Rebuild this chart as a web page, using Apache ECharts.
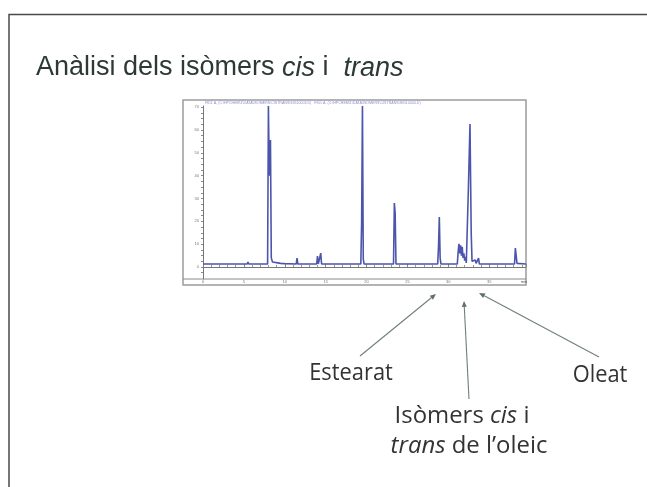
<!DOCTYPE html>
<html>
<head>
<meta charset="UTF-8">
<title>Anàlisi dels isòmers cis i trans</title>
<script src="https://cdn.jsdelivr.net/npm/echarts@6/dist/echarts.min.js"></script>
<style>
	html, body { margin: 0; padding: 0; background: #fff; }
	#main { width: 647px; height: 487px; }
</style>
</head>
<body>
<div id="main"></div>
<script type="text/javascript">
	// temps de retenció (min) i senyal del detector, llegits del cromatograma
	var temps = [0.0, 3.7, 3.8, 3.9, 5.4, 5.5, 5.6, 7.9, 8.0, 8.1, 8.25, 8.35, 8.5, 9.5, 10.0, 10.1, 10.2,
		11.4, 11.5, 11.6, 13.9, 14.0, 14.1, 14.3, 14.4, 14.5, 19.3, 19.4, 19.5, 19.6, 19.7, 21.9, 22.0, 22.1,
		23.3, 23.4, 23.5, 23.6, 28.7, 28.8, 28.9, 29.0, 29.1, 31.1, 31.2, 31.3, 31.4, 31.5, 31.6, 31.7, 31.8,
		31.9, 32.0, 32.1, 32.2, 32.35, 32.45, 32.65, 32.8, 32.9, 33.3, 33.4, 33.5, 33.7, 33.8, 33.9, 36.4,
		36.5, 36.6, 37.3, 37.4, 37.5, 38.1, 38.2, 38.3, 38.4, 38.6, 39.5];
	var senyal = [1.3, 1.3, 1.9, 1.3, 1.3, 2.2, 1.3, 1.3, 70.5, 40.0, 55.6, 4.0, 2.2, 1.6, 1.5, 1.8, 1.3,
		1.3, 3.9, 1.3, 1.3, 4.8, 1.3, 1.3, 6.1, 1.3, 1.3, 19.7, 70.5, 3.5, 1.3, 1.3, 1.8, 1.3,
		1.3, 28.0, 23.6, 1.3, 1.3, 8.8, 21.9, 4.0, 1.3, 1.3, 6.5, 10.1, 6.0, 9.5, 5.0, 8.8, 4.0,
		6.0, 2.8, 4.5, 1.8, 2.0, 33.7, 62.6, 14.9, 2.5, 3.1, 1.6, 1.5, 3.9, 1.3, 1.3, 1.3,
		1.9, 1.3, 1.3, 2.0, 1.3, 1.3, 8.3, 7.8, 1.6, 1.3, 1.3];
	var yEtiquetes = [0, 10, 20, 30, 40, 50, 60, 70];
	var yMarques = [-2.5, 0, 2.5, 5, 7.5, 10, 12.5, 15, 17.5, 20, 22.5, 25, 27.5, 30, 32.5, 35, 37.5,
		40, 42.5, 45, 47.5, 50, 52.5, 55, 57.5, 60, 62.5, 65, 67.5, 70];

	var punts = [];
	for (var i = 0; i < temps.length; i++) {
		punts.push([temps[i], senyal[i]]);
	}

	// fletxa: línia més punta
	function fletxa(x1, y1, x2, y2) {
		var dx = x2 - x1, dy = y2 - y1;
		var len = Math.sqrt(dx * dx + dy * dy);
		var ux = dx / len, uy = dy / len;
		var bx = x2 - ux * 6, by = y2 - uy * 6;
		return [
			{
				type: 'line', silent: true,
				shape: { x1: x1, y1: y1, x2: bx, y2: by },
				style: { stroke: '#6f7f7c', lineWidth: 1.1 }
			},
			{
				type: 'polygon', silent: true,
				shape: { points: [[x2, y2], [bx - uy * 2.5, by + ux * 2.5], [bx + uy * 2.5, by - ux * 2.5]] },
				style: { fill: '#5f6f6c' }
			}
		];
	}

	var myChart = echarts.init(document.getElementById('main'));

	var grafics = [
		{
			type: 'polyline', silent: true,
			shape: { points: [[9, 487], [9, 14.5], [647, 14.5]] },
			style: { stroke: '#4a4a4a', lineWidth: 1.5, fill: null }
		},
		{
			type: 'text', x: 36, y: 68,
			style: {
				text: '{n|Anàlisi dels isòmers }{i|cis}{n| i  }{i|trans}',
				rich: {
					n: { fontFamily: 'Liberation Sans', fontSize: 27, fill: '#2d3a34' },
					i: { fontFamily: 'Liberation Sans', fontSize: 27, fontStyle: 'italic', fill: '#2d3a34' }
				},
				verticalAlign: 'middle'
			}
		},
		{
			type: 'rect', silent: true, z: -1,
			shape: { x: 183, y: 100, width: 343, height: 185 },
			style: { stroke: '#9c9c9c', lineWidth: 1.5, fill: '#fff' }
		},
		{
			type: 'line', silent: true,
			shape: { x1: 183, y1: 279, x2: 526, y2: 279 },
			style: { stroke: '#8a8a8a', lineWidth: 1 }
		},
		{
			type: 'text', x: 205, y: 103,
			style: {
				text: 'FID1 A, (C:\\HPCHEM\\1\\DATA\\ISOMERS\\CISTRANS\\SIG10003.D)   FID1 A, (C:\\HPCHEM\\1\\DATA\\ISOMERS\\CISTRANS\\SIG10004.D)',
				fontSize: 3.6, fill: '#8c8cd6', verticalAlign: 'middle'
			}
		},
		{
			type: 'text', x: 524, y: 282,
			style: { text: 'min', fontSize: 4, fill: '#555', align: 'center', verticalAlign: 'middle' }
		},
		{
			type: 'text', x: 351, y: 373, scaleX: 0.95,
			style: {
				text: 'Estearat', fontFamily: 'Open Sans', fontSize: 23, fill: '#333',
				align: 'center', verticalAlign: 'middle'
			}
		},
		{
			type: 'text', x: 600, y: 375, scaleX: 0.95,
			style: {
				text: 'Oleat', fontFamily: 'Open Sans', fontSize: 23, fill: '#333',
				align: 'center', verticalAlign: 'middle'
			}
		},
		{
			type: 'text', x: 462, y: 416, scaleX: 1.04,
			style: {
				text: '{n|Isòmers }{i|cis}{n| i}',
				rich: {
					n: { fontFamily: 'Open Sans', fontSize: 23, fill: '#333' },
					i: { fontFamily: 'Open Sans', fontSize: 23, fontStyle: 'italic', fill: '#333' }
				},
				align: 'center', verticalAlign: 'middle'
			}
		},
		{
			type: 'text', x: 469, y: 446, scaleX: 1.04,
			style: {
				text: '{i|trans}{n| de l\u2019oleic}',
				rich: {
					n: { fontFamily: 'Open Sans', fontSize: 23, fill: '#333' },
					i: { fontFamily: 'Open Sans', fontSize: 23, fontStyle: 'italic', fill: '#333' }
				},
				align: 'center', verticalAlign: 'middle'
			}
		}
	];
	grafics = grafics.concat(fletxa(360, 356, 436, 294));
	grafics = grafics.concat(fletxa(469, 399, 464, 301));
	grafics = grafics.concat(fletxa(599, 357, 479, 293));

	var option = {
		animation: false,
		backgroundColor: '#fff',
		grid: { left: 203, top: 106, right: 121, bottom: 208, containLabel: false },
		xAxis: {
			type: 'value', min: 0, max: 39.5, interval: 5,
			axisLine: { lineStyle: { color: '#777', width: 1 } },
			axisTick: { inside: true, length: 3, lineStyle: { color: '#888' } },
			minorTick: { show: true, splitNumber: 5, length: 2, lineStyle: { color: '#999' } },
			axisLabel: { fontSize: 4, color: '#777', margin: 1, showMaxLabel: false },
			splitLine: { show: false }
		},
		yAxis: {
			type: 'value', min: -5.25, max: 70.5,
			axisLine: { show: true, lineStyle: { color: '#777', width: 1 } },
			axisTick: { show: true, length: 2, customValues: yMarques, lineStyle: { color: '#888' } },
			axisLabel: { fontSize: 4, color: '#777', margin: 4, customValues: yEtiquetes },
			splitLine: { show: false }
		},
		series: [
			{
				name: 'FID1',
				type: 'line',
				data: punts,
				showSymbol: false,
				clip: true,
				lineStyle: { color: '#4c55ab', width: 1.6 }
			}
		],
		graphic: grafics
	};

	myChart.setOption(option);
</script>
</body>
</html>
